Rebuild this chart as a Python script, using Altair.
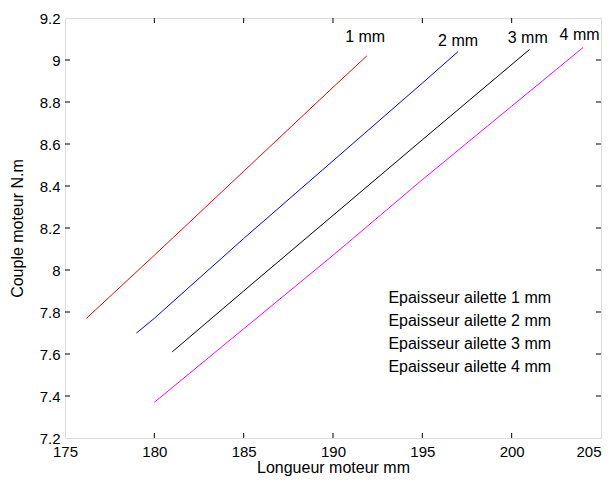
import altair as alt
import pandas as pd

series = ["1 mm", "2 mm", "3 mm", "4 mm"]
colors = ["#ff0000", "#0000ff", "#000000", "#ff00ff"]

x1 = [176.2, 180, 185, 190, 191.9]
y1 = [7.77, 8.07, 8.47, 8.87, 9.02]
x2 = [179, 180, 185, 190, 195, 197]
y2 = [7.70, 7.77, 8.15, 8.52, 8.89, 9.04]
x3 = [181, 185, 190, 195, 201]
y3 = [7.61, 7.90, 8.26, 8.62, 9.05]
x4 = [180, 185, 190, 195, 200, 204]
y4 = [7.37, 7.72, 8.07, 8.43, 8.78, 9.06]

label_x = [191.8, 197.0, 200.9, 203.8]
label_y = [9.11, 9.09, 9.105, 9.12]

legend_texts = ["Epaisseur ailette 1 mm", "Epaisseur ailette 2 mm",
                "Epaisseur ailette 3 mm", "Epaisseur ailette 4 mm"]
legend_x = [193.1, 193.1, 193.1, 193.1]
legend_y = [7.867, 7.757, 7.648, 7.538]

xticks = [175, 180, 185, 190, 195, 200, 205]
yticks = [7.2, 7.4, 7.6, 7.8, 8, 8.2, 8.4, 8.6, 8.8, 9, 9.2]

W, H = 536, 420
FONT = "Liberation Sans"

rows = []
for s, xs_, ys_ in zip(series, [x1, x2, x3, x4], [y1, y2, y3, y4]):
    for i, (a, b) in enumerate(zip(xs_, ys_)):
        rows.append({"s": s, "x": a, "y": b, "o": i})
df = pd.DataFrame(rows)

xs = alt.Scale(domain=[175, 205], nice=False, zero=False)
ys = alt.Scale(domain=[7.2, 9.2], nice=False, zero=False)

lines = alt.Chart(df).mark_line(strokeWidth=1).encode(
    x=alt.X("x:Q", scale=xs, axis=alt.Axis(
        values=xticks, tickSize=0, domain=False, grid=False, labelFlush=False,
        labelOverlap=False,
        labelAlign=alt.ExprRef(expr="datum.value >= 205 ? 'right' : 'center'"),
        labelFont=FONT, labelFontSize=15, labelColor="black", labelPadding=6,
        title="Longueur moteur mm", titleFont=FONT, titleFontSize=16,
        titleFontWeight="normal", titleColor="black",
        titleY=29, titleBaseline="middle")),
    y=alt.Y("y:Q", scale=ys, axis=alt.Axis(
        values=yticks, format="~g", tickSize=0, domain=False, grid=False,
        labelFlush=False, labelOverlap=False,
        labelFont=FONT, labelFontSize=15, labelColor="black", labelPadding=5,
        title="Couple moteur N.m", titleFont=FONT, titleFontSize=16,
        titleFontWeight="normal", titleColor="black",
        titleX=-48, titleY=H / 2, titleAngle=270, titleAlign="center",
        titleBaseline="middle")),
    color=alt.Color("s:N", scale=alt.Scale(domain=series, range=colors), legend=None),
    order="o:Q",
)

xt = pd.DataFrame({"t": xticks[1:-1]})
yt = pd.DataFrame({"t": yticks[1:-1]})
tick_bottom = alt.Chart(xt).mark_rule(color="black", strokeWidth=1).encode(
    x=alt.X("t:Q", scale=xs), y=alt.value(H), y2=alt.value(H - 5))
tick_top = alt.Chart(xt).mark_rule(color="black", strokeWidth=1).encode(
    x=alt.X("t:Q", scale=xs), y=alt.value(0), y2=alt.value(5))
tick_left = alt.Chart(yt).mark_rule(color="black", strokeWidth=1).encode(
    y=alt.Y("t:Q", scale=ys), x=alt.value(0), x2=alt.value(5))
tick_right = alt.Chart(yt).mark_rule(color="black", strokeWidth=1).encode(
    y=alt.Y("t:Q", scale=ys), x=alt.value(W), x2=alt.value(W - 5))

lab = pd.DataFrame({"x": label_x, "y": label_y, "t": series})
labels = alt.Chart(lab).mark_text(font=FONT, fontSize=16, color="black",
                                  align="center", baseline="middle").encode(
    x=alt.X("x:Q", scale=xs), y=alt.Y("y:Q", scale=ys), text="t:N")

leg = pd.DataFrame({"x": legend_x, "y": legend_y, "t": legend_texts})
legend = alt.Chart(leg).mark_text(font=FONT, fontSize=16, color="black",
                                  align="left", baseline="middle").encode(
    x=alt.X("x:Q", scale=xs), y=alt.Y("y:Q", scale=ys), text="t:N")

chart = alt.layer(lines, tick_bottom, tick_top, tick_left, tick_right, labels, legend).properties(
    width=W, height=H,
    autosize=alt.AutoSizeParams(type="none"),
    padding={"left": 57, "top": 10, "right": 2, "bottom": 38},
).configure_view(stroke="black", strokeWidth=1).configure(background="white")

chart.save("out.html", embed_options={"renderer": "svg", "actions": False})
